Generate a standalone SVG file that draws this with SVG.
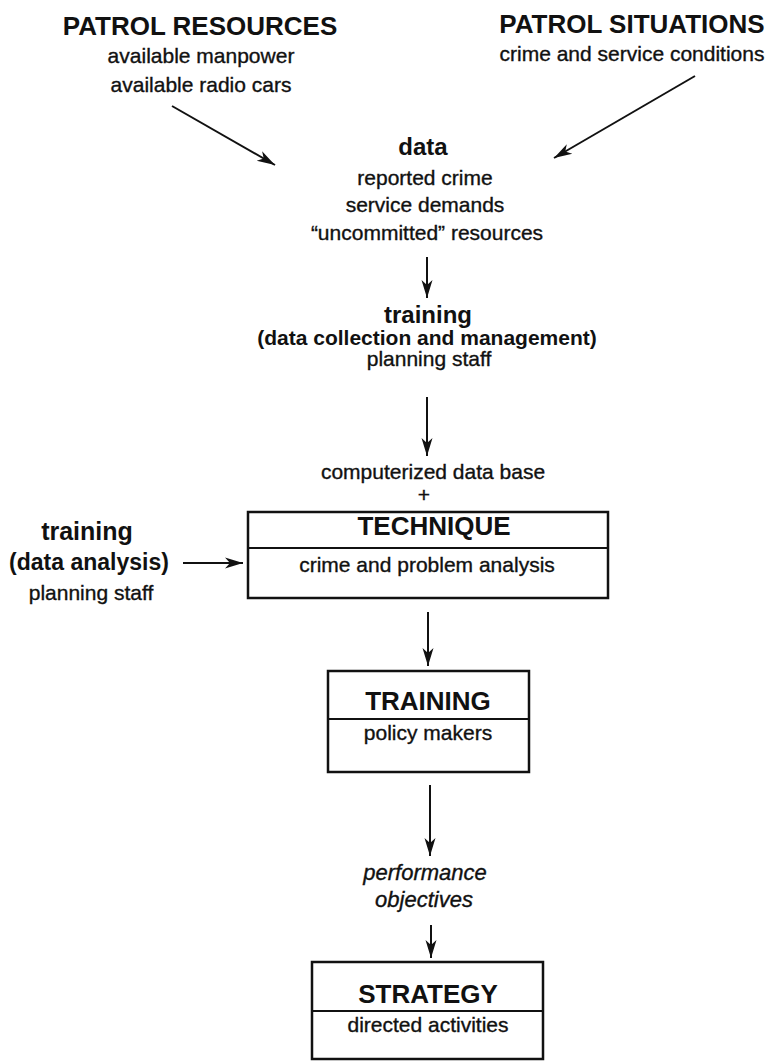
<svg xmlns="http://www.w3.org/2000/svg" width="782" height="1062" viewBox="0 0 782 1062">
<defs>
<style>
text{font-family:"Liberation Sans",Arial,sans-serif;fill:#111;text-anchor:middle}
.h{font-weight:bold;font-size:26px}
.b{font-weight:bold}
.r{font-size:21px;stroke:#111;stroke-width:0.35}
.it{font-style:italic;font-size:22px;stroke:#111;stroke-width:0.35}
.box{fill:none;stroke:#111;stroke-width:2.5}
.div{stroke:#111;stroke-width:2}
.c{stroke:#111;stroke-width:2;fill:none;marker-end:url(#ah)}
</style>
<marker id="ah" markerUnits="userSpaceOnUse" markerWidth="20" markerHeight="14" viewBox="0 0 20 14" refX="18" refY="7" orient="auto">
<path d="M0,1.5 L18,7 L0,12.5 L5,7 Z" fill="#111"/>
</marker>
</defs>
<rect width="782" height="1062" fill="#fff"/>

<g id="patrol-resources">
<text class="h" x="200" y="35">PATROL RESOURCES</text>
<text class="r" x="201" y="63">available manpower</text>
<text class="r" x="201" y="92">available radio cars</text>
</g>

<g id="patrol-situations">
<text class="h" x="632" y="33">PATROL SITUATIONS</text>
<text class="r" x="632" y="61">crime and service conditions</text>
</g>

<g id="data">
<text class="b" font-size="24" x="423" y="155">data</text>
<text class="r" font-size="22" x="425" y="185">reported crime</text>
<text class="r" font-size="22" x="425" y="212">service demands</text>
<text class="r" font-size="22" x="427" y="240">“uncommitted” resources</text>
</g>

<g id="training-collection">
<text class="b" font-size="24" x="428" y="323">training</text>
<text class="b" font-size="21" x="427" y="345">(data collection and management)</text>
<text class="r" x="429" y="366">planning staff</text>
</g>

<g id="database">
<text class="r" font-size="22" x="433" y="479">computerized data base</text>
<text class="r" font-size="22" x="424" y="502">+</text>
</g>

<g id="training-analysis">
<text class="b" font-size="25" x="87" y="540">training</text>
<text class="b" font-size="23" x="89" y="570">(data analysis)</text>
<text class="r" x="91" y="600">planning staff</text>
</g>

<g id="technique">
<rect class="box" x="248" y="512" width="360" height="86"/>
<line class="div" x1="248" y1="548" x2="608" y2="548"/>
<text class="h" font-size="25" x="434" y="535">TECHNIQUE</text>
<text class="r" x="427" y="572">crime and problem analysis</text>
</g>

<g id="training-policy">
<rect class="box" x="328" y="671" width="201" height="101"/>
<line class="div" x1="328" y1="719" x2="529" y2="719"/>
<text class="h" x="428" y="710">TRAINING</text>
<text class="r" font-size="22" x="428" y="740">policy makers</text>
</g>

<g id="performance">
<text class="it" x="425" y="880">performance</text>
<text class="it" x="424" y="907">objectives</text>
</g>

<g id="strategy">
<rect class="box" x="312" y="962" width="231" height="97"/>
<line class="div" x1="312" y1="1011" x2="543" y2="1011"/>
<text class="h" x="428" y="1003">STRATEGY</text>
<text class="r" font-size="22" x="428" y="1032">directed activities</text>
</g>

<g id="connectors">
<line class="c" x1="172" y1="106" x2="275" y2="165"/>
<line class="c" x1="695" y1="76" x2="554" y2="158"/>
<line class="c" x1="427" y1="257" x2="427" y2="298"/>
<line class="c" x1="427" y1="397" x2="427" y2="456"/>
<line class="c" x1="183" y1="563" x2="243" y2="563"/>
<line class="c" x1="428" y1="612" x2="428" y2="666"/>
<line class="c" x1="430" y1="785" x2="430" y2="856"/>
<line class="c" x1="431" y1="925" x2="431" y2="958"/>
</g>
</svg>
